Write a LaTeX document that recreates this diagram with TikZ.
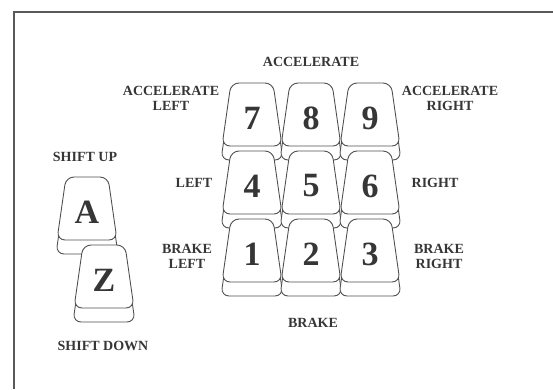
\documentclass[tikz,border=0pt]{standalone}
\usepackage{fontspec}
\setmainfont{Liberation Serif}
\usetikzlibrary{positioning}
\definecolor{ink}{HTML}{363636}
\definecolor{keyl}{HTML}{505050}

% one key: name, centre x, top y, legend
\newcommand{\keycap}[4]{%
  \draw[keybase] ({#2-22},{#3+14}) -- ({#2+22},{#3+14}) -- ({#2+31},{#3+77})
                 -- ({#2-31},{#3+77}) -- cycle;
  \draw[keytop]  ({#2-21},{#3}) -- ({#2+21},{#3}) -- ({#2+30},{#3+63})
                 -- ({#2-30},{#3+63}) -- cycle;
  \node[legend] (#1) at (#2,{#3+35}) {#4};
}

\begin{document}
\begin{tikzpicture}[
  x=1pt, y=-1pt,
  keytop/.style  = {draw=keyl, fill=white, line width=.9pt, rounded corners=8pt},
  keybase/.style = {keytop},
  legend/.style  = {font=\bfseries\fontsize{34}{34}\selectfont, text=ink, inner sep=0pt},
  lbl/.style     = {font=\bfseries\fontsize{14}{15}\selectfont, text=ink, align=center,
                    inner sep=0pt},
  frame/.style   = {draw=black!65, line width=1.2pt},
]
\useasboundingbox (0,0) rectangle (553,389);

% frame (only top and left edges show)
\draw[frame] (553,12) -- (14,12) -- (14,389);

% number pad, top row first so lower rows sit over the bases
\foreach \n/\cx/\ty in {7/252/83, 8/311/83, 9/370/83,
                        4/252/151, 5/311/151, 6/370/151,
                        1/252/219, 2/311/219, 3/370/219}
  \keycap{k\n}{\cx}{\ty}{\n};

% gear keys
\keycap{kA}{87}{177}{A}
\keycap{kZ}{104}{245}{Z}

% labels round the pad
\node[lbl] (accel)  at (311,62)  {ACCELERATE};
\node[lbl] (accelL) at (171,98)  {ACCELERATE\\LEFT};
\node[lbl] (accelR) at (450,98)  {ACCELERATE\\RIGHT};
\node[lbl] (left)   at (194,183) {LEFT};
\node[lbl] (right)  at (435,183) {RIGHT};
\node[lbl] (brakeL) at (187,256) {BRAKE\\LEFT};
\node[lbl] (brakeR) at (439,256) {BRAKE\\RIGHT};
\node[lbl] (brake)  at (313,323) {BRAKE};

% labels for the gear keys
\node[lbl] (up)   at (85,157)  {SHIFT UP};
\node[lbl] (down) at (103,346) {SHIFT DOWN};
\end{tikzpicture}
\end{document}
